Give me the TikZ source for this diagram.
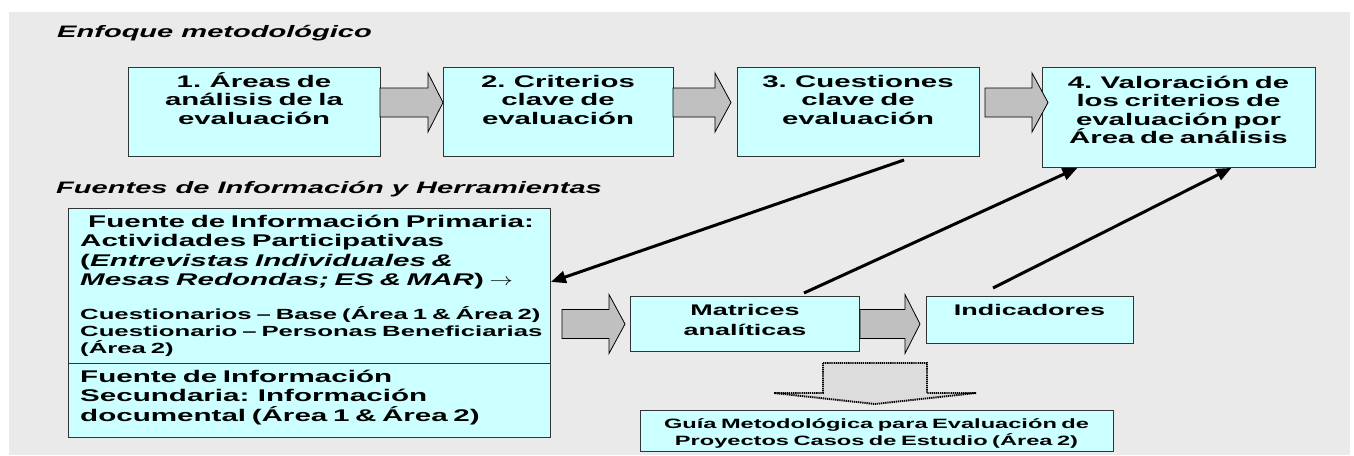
\documentclass[tikz,border=0pt]{standalone}
\usepackage{fontspec}
\setmainfont{Liberation Sans}[FakeStretch=1.75]
\usetikzlibrary{arrows.meta}
\definecolor{bggray}{HTML}{EAEAEA}
\definecolor{boxcyan}{HTML}{CCFFFF}
\definecolor{arrgray}{HTML}{C0C0C0}
\definecolor{dotgray}{HTML}{DCDCDC}
\newcommand{\blockarr}[4]{%
  \draw[blk] (#1,#4-14.5) -- (#2,#4-14.5) -- (#2,#4-29.5) -- (#3,#4) -- (#2,#4+29.5) -- (#2,#4+14.5) -- (#1,#4+14.5) -- cycle;}
\tikzset{
  box/.style={draw=black!80, line width=0.9pt, fill=boxcyan, inner sep=0pt, anchor=north west},
  blk/.style={draw=black, line width=0.8pt, fill=arrgray, line join=miter},
  conn/.style={line width=3pt, -{Triangle[length=15pt,width=12pt]}},
  dotarr/.style={draw=black, line width=1.9pt, dash pattern=on 1.3pt off 0.8pt, fill=dotgray},
  ttl/.style={font=\fontsize{16.6}{19}\selectfont\bfseries\itshape, inner sep=0pt, anchor=base west},
  bigtxt/.style={font=\fontsize{16.8}{18.6}\selectfont\bfseries, align=center, text width=300pt, inner sep=0pt, anchor=base},
  midtxt/.style={font=\fontsize{15.4}{20}\selectfont\bfseries, align=center, text width=300pt, inner sep=0pt, anchor=base},
  ptxt/.style={font=\fontsize{16.9}{19.6}\selectfont\bfseries, align=left, text width=480pt, inner sep=0pt, anchor=base west},
  stxt/.style={font=\fontsize{14.7}{17}\selectfont\bfseries, align=left, text width=480pt, inner sep=0pt, anchor=base west},
  gtxt/.style={font=\fontsize{13.5}{17}\selectfont\bfseries, align=center, text width=470pt, inner sep=0pt, anchor=base},
}
\begin{document}
\begin{tikzpicture}[x=1pt,y=-1pt]
\useasboundingbox (0,0) rectangle (1354,455);
\fill[white] (0,0) rectangle (1354,455);
\fill[bggray] (9,12) rectangle (1350,455);

% titles
\node[ttl] (h1) at (57,37) {Enfoque metodológico};
\node[ttl] (h2) at (56,193) {Fuentes de Información y Herramientas};

% top boxes
\node[box, minimum width=252pt, minimum height=89pt] (b1) at (128,67) {};
\node[box, minimum width=230pt, minimum height=89pt] (b2) at (443,67) {};
\node[box, minimum width=242pt, minimum height=89pt] (b3) at (737,67) {};
\node[box, minimum width=273pt, minimum height=100pt] (b4) at (1042,67) {};
\node[bigtxt] (t1) at (254,87) {1. Áreas de\\análisis de la\\evaluación};
\node[bigtxt] (t2) at (558,87) {2. Criterios\\clave de\\evaluación};
\node[bigtxt] (t3) at (858,87) {3. Cuestiones\\clave de\\evaluación};
\node[bigtxt] (t4) at (1178.5,88) {4. Valoración de\\los criterios de\\evaluación por\\Área de análisis};

% block arrows (top row)
\blockarr{380}{428}{443}{102.5}
\blockarr{673}{715}{731}{102.5}
\blockarr{985}{1032}{1048}{102.5}

% sources boxes
\node[box, minimum width=482pt, minimum height=155pt] (prim) at (68,208) {};
\node[box, minimum width=482pt, minimum height=74pt] (sec) at (68,363) {};
\node[ptxt] (tp) at (80,227) {\hspace*{8pt}Fuente de Información Primaria:\\Actividades Participativas\\(\textit{Entrevistas Individuales \&}\\\textit{Mesas Redondas; ES \& MAR}) \scalebox{1.35}[1]{$\rightarrow$}};
\node[stxt] (ts) at (80,319) {Cuestionarios – Base (Área 1 \& Área 2)\\Cuestionario – Personas Beneficiarias\\(Área 2)};
\node[ptxt] (tsec) at (80,382) {Fuente de Información\\Secundaria: Información\\documental (Área 1 \& Área 2)};

% tools
\node[box, minimum width=229pt, minimum height=55pt] (mat) at (630,296) {};
\node[box, minimum width=207pt, minimum height=47pt] (ind) at (926,296) {};
\node[midtxt] (tm) at (745,315) {Matrices\\analíticas};
\node[midtxt] (ti) at (1029.5,315) {Indicadores};

\blockarr{562}{609}{625}{324}
\blockarr{860}{905}{920}{324}

% dotted down arrow and guide
\draw[dotarr] (823,363) -- (927,363) -- (927,393) -- (976,393) -- (875,404) -- (774,393) -- (823,393) -- cycle;
\node[box, minimum width=473pt, minimum height=41pt] (guia) at (640,410) {};
\node[gtxt] (tg) at (876.5,428) {Guía Metodológica para Evaluación de\\Proyectos Casos de Estudio (Área 2)};

% connectors
\coordinate (c1) at (904,160);
\coordinate (c2) at (804,293);
\coordinate (c3) at (993,288);
\draw[conn] (c1) -- ([yshift=4pt]prim.east);
\draw[conn] (c2) -- ([xshift=-101.5pt]b4.south);
\draw[conn] (c3) -- ([xshift=52.5pt]b4.south);
\end{tikzpicture}
\end{document}
